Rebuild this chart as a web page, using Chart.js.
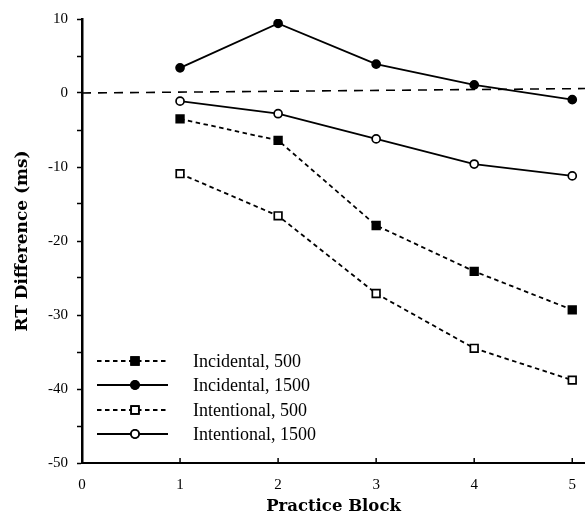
<!DOCTYPE html>
<html>
<head>
<meta charset="utf-8">
<script src="https://cdn.jsdelivr.net/npm/chart.js@4/dist/chart.umd.min.js"></script>
<style>
  html, body { margin: 0; padding: 0; background: #fff; }
  #wrap { width: 585px; height: 515px; }
</style>
</head>
<body>
<div id="wrap"><canvas id="rtChart" width="585" height="515"></canvas></div>
<script>
// RT difference by practice block, four conditions
const blocks = [1, 2, 3, 4, 5];
const incidental500 = [-3.5, -6.4, -17.9, -24.1, -29.3];
const incidental1500 = [3.4, 9.4, 3.9, 1.1, -0.9];
const intentional500 = [-10.9, -16.6, -27.1, -34.5, -38.8];
const intentional1500 = [-1.1, -2.8, -6.2, -9.6, -11.2];
const seriesLabels = ['Incidental, 500', 'Incidental, 1500', 'Intentional, 500', 'Intentional, 1500'];

// dashed zero reference line (runs past the last block)
const zeroLineX = [0, 5.13];
const zeroLineY = [0, 0.6];

const xTickValues = [0, 1, 2, 3, 4, 5];
const yTickValues = [10, 0, -10, -20, -30, -40, -50];

const SERIF = '"Liberation Serif", "DejaVu Serif", serif';
const TITLE_SERIF = '"DejaVu Serif", "Liberation Serif", serif';

function toPoints(xs, ys) {
  return xs.map((x, i) => ({ x: x, y: ys[i] }));
}

function makeSeries(label, values, dashed, filled, shape) {
  return {
    label: label,
    data: toPoints(blocks, values),
    borderColor: '#000',
    borderWidth: 1.8,
    borderDash: dashed ? [4.5, 3.5] : [],
    pointStyle: shape,
    pointRadius: shape === 'rect' ? 5.4 : 4,
    pointBorderWidth: 1.7,
    pointBorderColor: '#000',
    pointBackgroundColor: filled ? '#000' : '#fff',
    tension: 0,
    fill: false
  };
}

// legend drawn inside the plot with line sample + marker
const insideLegend = {
  id: 'insideLegend',
  afterDatasetsDraw(chart) {
    const ctx = chart.ctx;
    const rows = [361, 385, 410, 434];
    const x0 = 97, x1 = 168, xm = 135, xt = 193;
    ctx.save();
    chart.data.datasets.forEach(ds => {
      if (!ds.inLegend) return;
      const y = rows[ds.legendRow];
      ctx.strokeStyle = '#000';
      ctx.lineWidth = ds.borderWidth;
      ctx.setLineDash(ds.borderDash);
      ctx.beginPath();
      ctx.moveTo(x0, y);
      ctx.lineTo(x1, y);
      ctx.stroke();
      ctx.setLineDash([]);
      Chart.helpers.drawPoint(ctx, {
        pointStyle: ds.pointStyle,
        radius: ds.pointRadius,
        borderWidth: ds.pointBorderWidth
      }, xm, y);
      ctx.fillStyle = ds.pointBackgroundColor;
      ctx.strokeStyle = '#000';
      ctx.lineWidth = ds.pointBorderWidth;
      ctx.fill();
      ctx.stroke();
      ctx.fillStyle = '#000';
      ctx.font = '18px ' + SERIF;
      ctx.textBaseline = 'middle';
      ctx.textAlign = 'left';
      ctx.fillText(ds.label, xt, y + 1);
    });
    ctx.restore();
  }
};

// small inward tick marks on the x axis
const inwardTicks = {
  id: 'inwardTicks',
  afterDraw(chart) {
    const ctx = chart.ctx;
    const xs = chart.scales.x;
    const bottom = chart.chartArea.bottom;
    ctx.save();
    ctx.strokeStyle = '#000';
    ctx.lineWidth = 1.5;
    xTickValues.forEach(v => {
      const px = xs.getPixelForValue(v);
      ctx.beginPath();
      ctx.moveTo(px, bottom);
      ctx.lineTo(px, bottom - 5);
      ctx.stroke();
    });
    ctx.restore();
  }
};

const datasets = [
  makeSeries(seriesLabels[0], incidental500, true, true, 'rect'),
  makeSeries(seriesLabels[1], incidental1500, false, true, 'circle'),
  makeSeries(seriesLabels[2], intentional500, true, false, 'rect'),
  makeSeries(seriesLabels[3], intentional1500, false, false, 'circle')
];
datasets.forEach((ds, i) => { ds.inLegend = true; ds.legendRow = i; });

datasets.push({
  label: 'zero',
  data: toPoints(zeroLineX, zeroLineY),
  borderColor: '#000',
  borderWidth: 1.6,
  borderDash: [9, 7],
  pointRadius: 0,
  tension: 0,
  fill: false,
  order: 10
});

new Chart(document.getElementById('rtChart'), {
  type: 'line',
  data: { datasets: datasets },
  plugins: [insideLegend, inwardTicks],
  options: {
    responsive: false,
    animation: false,
    layout: { autoPadding: false, padding: { top: 19, right: 0, left: 0, bottom: 0 } },
    plugins: {
      legend: { display: false },
      tooltip: { enabled: false }
    },
    scales: {
      x: {
        type: 'linear',
        min: 0,
        max: 5.13,
        afterBuildTicks: axis => { axis.ticks = xTickValues.map(v => ({ value: v })); },
        afterFit: axis => {
          axis.height = 52;
          axis.paddingLeft = 0;
          axis.paddingRight = 0;
        },
        grid: { drawOnChartArea: false, drawTicks: false },
        border: { color: '#000', width: 2 },
        ticks: {
          color: '#000',
          padding: 13,
          maxRotation: 0,
          font: { family: SERIF, size: 15 }
        },
        title: {
          display: true,
          text: 'Practice Block',
          color: '#000',
          padding: { top: 0, bottom: 0 },
          font: { family: TITLE_SERIF, size: 16.5, weight: 'bold', lineHeight: 1 }
        }
      },
      y: {
        type: 'linear',
        min: -50,
        max: 10,
        afterBuildTicks: axis => {
          const t = [];
          for (let v = -50; v <= 10; v += 5) t.push({ value: v });
          axis.ticks = t;
        },
        afterFit: axis => {
          axis.width = 82;
          axis.paddingTop = 0;
          axis.paddingBottom = 0;
        },
        grid: { drawOnChartArea: false, drawTicks: true, tickLength: 5, color: '#000', tickWidth: 1.5 },
        border: { color: '#000', width: 2.5 },
        ticks: {
          color: '#000',
          padding: 9,
          font: { family: SERIF, size: 15 },
          callback: v => (yTickValues.includes(v) ? String(v) : '')
        },
        title: {
          display: true,
          text: 'RT Difference (ms)',
          color: '#000',
          padding: { top: 14.5, bottom: 0 },
          font: { family: TITLE_SERIF, size: 17, weight: 'bold', lineHeight: 1 }
        }
      }
    }
  }
});
</script>
</body>
</html>
